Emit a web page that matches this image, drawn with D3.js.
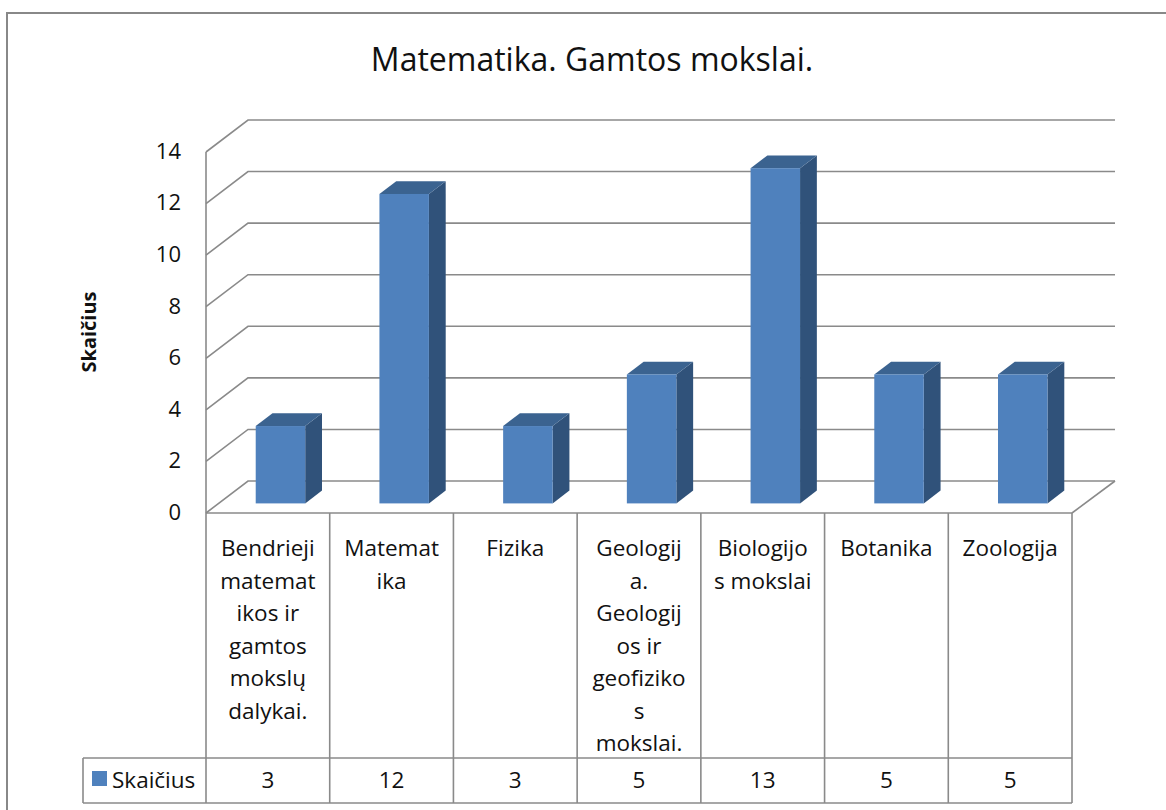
<!DOCTYPE html>
<html>
<head>
<meta charset="utf-8">
<script src="https://cdn.jsdelivr.net/npm/d3@7"></script>
<style>
  body { margin: 0; background: #fff; }
  text { font-family: "Open Sans", sans-serif; fill: #111; }
</style>
</head>
<body>
<svg id="chart" width="1166" height="810"></svg>
<script>
// Data
var categories = ["Bendrieji matematikos ir gamtos mokslų dalykai.", "Matematika", "Fizika",
    "Geologija. Geologijos ir geofizikos mokslai.", "Biologijos mokslai", "Botanika", "Zoologija"];
// the way the table wraps each name
var categoryLines = [
    ["Bendrieji", "matemat", "ikos ir", "gamtos", "mokslų", "dalykai."],
    ["Matemat", "ika"],
    ["Fizika"],
    ["Geologij", "a.", "Geologij", "os ir", "geofiziko", "s", "mokslai."],
    ["Biologijo", "s mokslai"],
    ["Botanika"],
    ["Zoologija"]
];
var values = [3, 12, 3, 5, 13, 5, 5];
var yTicks = [0, 2, 4, 6, 8, 10, 12, 14];
var seriesName = "Skaičius";
var title = "Matematika. Gamtos mokslai.";

var svg = d3.select("#chart");
var gridColor = "#8a8a8a";

// outer chart border (right and bottom run off the page)
svg.append("path")
    .attr("d", "M7,820 L7,13 L1180,13")
    .attr("fill", "none")
    .attr("stroke", "#888")
    .attr("stroke-width", 2);

// Scales
var x = d3.scaleBand()
    .domain(categories)
    .range([206, 1072]);
var y = d3.scaleLinear()
    .domain([0, 14])
    .range([513, 152]);

// depth of the 3D box
var depthX = 42, depthY = 32;
var backRight = 1115;

// gridlines: front axis -> diagonal -> back wall
svg.append("g")
    .selectAll("path")
    .data(yTicks)
    .enter()
    .append("path")
    .attr("d", function (d) {
        return "M" + x.range()[0] + "," + y(d) +
            " L" + (x.range()[0] + depthX) + "," + (y(d) - depthY) +
            " L" + backRight + "," + (y(d) - depthY);
    })
    .attr("fill", "none")
    .attr("stroke", gridColor)
    .attr("stroke-width", 1.6);

// front vertical axis
svg.append("line")
    .attr("x1", 206).attr("x2", 206)
    .attr("y1", y(14)).attr("y2", y(0))
    .attr("stroke", gridColor)
    .attr("stroke-width", 1.6);

// right edge of the floor
svg.append("line")
    .attr("x1", x.range()[1]).attr("y1", y(0))
    .attr("x2", backRight).attr("y2", y(0) - depthY)
    .attr("stroke", gridColor)
    .attr("stroke-width", 1.6);

// y tick labels
svg.append("g")
    .selectAll("text")
    .data(yTicks)
    .enter()
    .append("text")
    .attr("x", 181)
    .attr("y", function (d) { return y(d) + 1; })
    .attr("text-anchor", "end")
    .attr("dominant-baseline", "middle")
    .style("font-size", "22px")
    .text(function (d) { return d; });

// y title
svg.append("text")
    .attr("transform", "translate(96,332) rotate(-90)")
    .attr("text-anchor", "middle")
    .style("font-size", "20px")
    .style("font-weight", "bold")
    .text(seriesName);

// title
svg.append("text")
    .attr("x", 592)
    .attr("y", 71)
    .attr("text-anchor", "middle")
    .style("font-size", "32px")
    .text(title);

// 3D bars
var front = 0.3, depth = 0.4;
var barW = x.bandwidth() * 0.4;
var bars = svg.append("g")
    .selectAll("g")
    .data(values)
    .enter()
    .append("g");

function barBox(d, i) {
    var x0 = x(categories[i]) + (x.bandwidth() - barW) / 2 + front * depthX;
    var x1 = x0 + barW;
    var yt = y(d) - front * depthY;
    var yb = y(0) - front * depthY;
    return { x0: x0, x1: x1, yt: yt, yb: yb, dx: depth * depthX, dy: depth * depthY };
}

bars.append("path")
    .attr("d", function (d, i) {
        var b = barBox(d, i);
        return "M" + b.x1 + "," + b.yt + " L" + (b.x1 + b.dx) + "," + (b.yt - b.dy) +
            " L" + (b.x1 + b.dx) + "," + (b.yb - b.dy) + " L" + b.x1 + "," + b.yb + "Z";
    })
    .attr("fill", "#30527a");

bars.append("path")
    .attr("d", function (d, i) {
        var b = barBox(d, i);
        return "M" + b.x0 + "," + b.yt + " L" + (b.x0 + b.dx) + "," + (b.yt - b.dy) +
            " L" + (b.x1 + b.dx) + "," + (b.yt - b.dy) + " L" + b.x1 + "," + b.yt + "Z";
    })
    .attr("fill", "#3b6390");

bars.append("rect")
    .attr("x", function (d, i) { return barBox(d, i).x0; })
    .attr("y", function (d, i) { return barBox(d, i).yt; })
    .attr("width", barW)
    .attr("height", function (d, i) { var b = barBox(d, i); return b.yb - b.yt; })
    .attr("fill", "#4f81bd");

// Data table
var tableTop = y(0), rowSplit = 758, tableBottom = 803, legendLeft = 83;
var table = svg.append("g")
    .attr("stroke", gridColor)
    .attr("stroke-width", 1.6);

var edges = categories.map(function (c) { return x(c); }).concat([x.range()[1]]);
table.selectAll("line.col")
    .data(edges)
    .enter()
    .append("line")
    .attr("class", "col")
    .attr("x1", function (d) { return d; })
    .attr("x2", function (d) { return d; })
    .attr("y1", tableTop)
    .attr("y2", tableBottom);

table.append("line")
    .attr("x1", x.range()[0]).attr("x2", x.range()[1])
    .attr("y1", tableTop).attr("y2", tableTop);
table.append("line")
    .attr("x1", legendLeft).attr("x2", x.range()[1])
    .attr("y1", rowSplit).attr("y2", rowSplit);
table.append("line")
    .attr("x1", legendLeft).attr("x2", x.range()[1])
    .attr("y1", tableBottom).attr("y2", tableBottom);
table.append("line")
    .attr("x1", legendLeft).attr("x2", legendLeft)
    .attr("y1", rowSplit).attr("y2", tableBottom);

// category names
var catText = svg.append("g")
    .selectAll("text")
    .data(categoryLines)
    .enter()
    .append("text")
    .attr("text-anchor", "middle")
    .style("font-size", "22.5px");

catText.selectAll("tspan")
    .data(function (d, i) { return d.map(function (l) { return { line: l, i: i }; }); })
    .enter()
    .append("tspan")
    .attr("x", function (d) { return x(categories[d.i]) + x.bandwidth() / 2; })
    .attr("y", function (d, j) { return 556 + j * 32.5; })
    .text(function (d) { return d.line; });

// values row
svg.append("g")
    .selectAll("text")
    .data(values)
    .enter()
    .append("text")
    .attr("x", function (d, i) { return x(categories[i]) + x.bandwidth() / 2; })
    .attr("y", 788)
    .attr("text-anchor", "middle")
    .style("font-size", "22.5px")
    .text(function (d) { return d; });

// legend key
svg.append("rect")
    .attr("x", 92).attr("y", 771)
    .attr("width", 15).attr("height", 15)
    .attr("fill", "#4f81bd");
svg.append("text")
    .attr("x", 112)
    .attr("y", 788)
    .style("font-size", "22.5px")
    .text(seriesName);
</script>
</body>
</html>
